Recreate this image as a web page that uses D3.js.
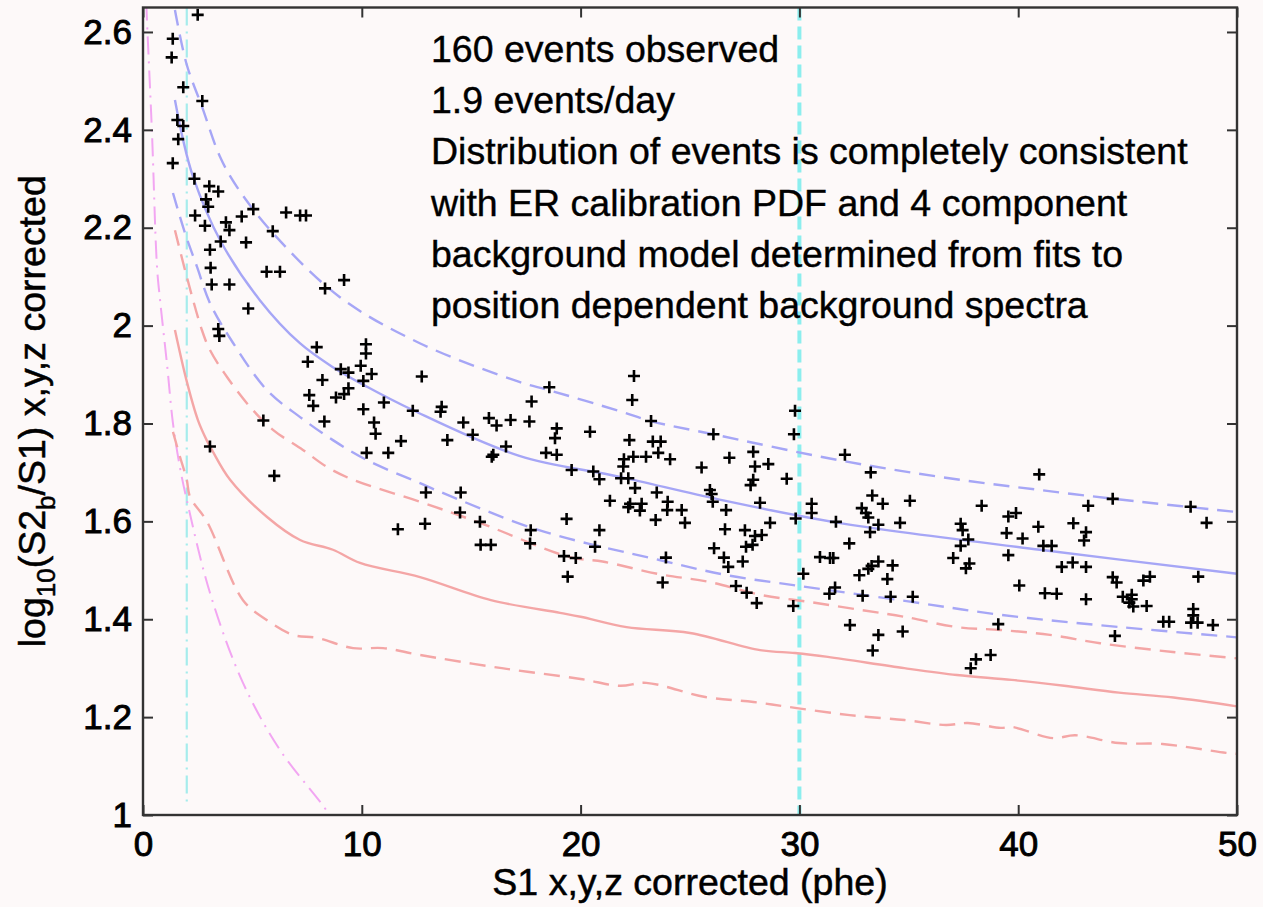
<!DOCTYPE html>
<html>
<head>
<meta charset="utf-8">
<script src="https://cdn.jsdelivr.net/npm/d3@7"></script>
<style>
  html, body { margin: 0; padding: 0; background: #fdf9f9; }
  svg { display: block; }
  text { font-family: "Liberation Sans", Arial, Helvetica, sans-serif; fill: #000; }
</style>
</head>
<body>
<svg id="chart" width="1263" height="907"></svg>
<script>
// ---------------- data ----------------
const xTicks = [0, 10, 20, 30, 40, 50];
const xTickLabels = ["0", "10", "20", "30", "40", "50"];
const yTicks = [1, 1.2, 1.4, 1.6, 1.8, 2, 2.2, 2.4, 2.6];
const yTickLabels = ["1", "1.2", "1.4", "1.6", "1.8", "2", "2.2", "2.4", "2.6"];

const annotationLines = [
  "160 events observed",
  "1.9 events/day",
  "Distribution of events is completely consistent",
  "with ER calibration PDF and 4 component",
  "background model determined from fits to",
  "position dependent background spectra"
];

// ER band mean (blue solid)
const erMeanX = [1.46, 1.83, 2.29, 3.52, 5.34, 7.17, 8.68, 10.24, 12.3, 17.2, 21.8, 26.4, 31.8, 41.0, 50];
const erMeanY = [2.461, 2.38, 2.304, 2.175, 2.052, 1.964, 1.915, 1.875, 1.828, 1.734, 1.691, 1.644, 1.597, 1.542, 1.493];
// ER band upper (blue dashed)
const erUpX = [1.46, 2.0, 2.7, 3.52, 4.3, 5.94, 9.0, 12.65, 17.2, 18.56, 21.8, 23.2, 26.05, 31.8, 36.4, 41.0, 45.6, 50];
const erUpY = [2.645, 2.533, 2.447, 2.345, 2.283, 2.189, 2.058, 1.964, 1.885, 1.868, 1.825, 1.805, 1.778, 1.725, 1.691, 1.664, 1.640, 1.619];
// ER band lower (blue dashed)
const erLoX = [1.37, 1.92, 2.47, 3.06, 4.11, 5.67, 7.18, 8.68, 10.24, 12.66, 13.6, 18.1, 23.6, 26.7, 30.0, 34.9, 39.2, 43.7, 50];
const erLoY = [2.271, 2.189, 2.12, 2.046, 1.965, 1.868, 1.813, 1.766, 1.725, 1.678, 1.66, 1.582, 1.521, 1.49, 1.468, 1.437, 1.409, 1.388, 1.363];
// NR band mean (red solid)
const nrMeanX = [1.46, 2.0, 2.51, 2.92, 3.15, 3.98, 5.67, 7.18, 8.68, 9.92, 12.66, 15.9, 19.06, 20, 22.1, 25, 28.2, 29.8, 31.3, 34.8, 37.2, 39.7, 42.1, 44.6, 47.1, 50];
const nrMeanY = [1.991, 1.886, 1.807, 1.765, 1.746, 1.685, 1.609, 1.562, 1.542, 1.515, 1.486, 1.439, 1.413, 1.405, 1.384, 1.372, 1.337, 1.331, 1.323, 1.30, 1.286, 1.276, 1.264, 1.25, 1.24, 1.222];
// NR band upper (red dashed)
const nrUpX = [1.46, 2.0, 2.7, 3.06, 3.84, 4.89, 5.94, 7.31, 8.41, 9.6, 12.66, 15.4, 19.5, 21.0, 23.6, 25.9, 28.2, 30.5, 32.8, 34.8, 37.2, 39.2, 41.45, 43.74, 47.07, 50];
const nrUpY = [2.195, 2.10, 1.99, 1.95, 1.895, 1.834, 1.787, 1.746, 1.711, 1.685, 1.64, 1.597, 1.527, 1.518, 1.492, 1.476, 1.45, 1.435, 1.419, 1.405, 1.384, 1.378, 1.368, 1.351, 1.333, 1.32];
// NR band lower (red dashed)
const nrLoX = [1.37, 1.69, 2.0, 2.15, 2.92, 4.57, 5.67, 6.86, 7.95, 9.6, 10.97, 12.66, 16.4, 20, 21.8, 23, 25.7, 27.9, 29.8, 32.3, 34.8, 36.7, 37.7, 39.2, 39.7, 41.6, 42.6, 44.6, 46.6, 49.5, 50];
const nrLoY = [1.783, 1.732, 1.685, 1.650, 1.60, 1.439, 1.398, 1.368, 1.362, 1.341, 1.341, 1.327, 1.30, 1.278, 1.264, 1.27, 1.241, 1.231, 1.219, 1.204, 1.194, 1.184, 1.188, 1.178, 1.18, 1.157, 1.163, 1.147, 1.145, 1.127, 1.125];
// S2 threshold (magenta dash-dot)
const thrX = [0.15, 0.18, 0.41, 0.64, 0.78, 1.1, 1.37, 1.69, 2.0, 3.06, 4.57, 6.26, 8.46, 8.7];
const thrY = [2.66, 2.625, 2.394, 2.12, 2.052, 1.92, 1.80, 1.71, 1.644, 1.454, 1.27, 1.133, 1.004, 0.98];
// vertical cut lines (cyan)
const cutLowS1 = 2;
const cutHighS1 = 30;

// events
const eventS1 = [
  2.50,1.36,1.31,1.84,2.71,1.57,1.84,1.61,1.36,2.35,3.03,3.44,2.88,2.98,2.38,2.83,3.79,3.95,4.51,5.04,4.71,3.55,3.06,3.09,3.14,3.95,5.93,6.54,7.18,7.45,5.65,6.26,8.32,9.19,
  4.81,3.44,3.49,7.94,7.53,10.19,10.19,9.95,9.04,9.39,10.45,10.07,12.74,8.20,9.39,9.19,7.60,8.82,7.78,10.07,11.01,12.33,8.29,5.50,10.56,10.63,11.79,10.22,11.21,3.06,6.0,11.65,13.6,13.65,
  13.91,14.64,15.07,15.81,16.16,16.8,17.66,17.76,18.57,16.59,15.94,16.01,18.42,18.91,18.91,18.83,19.59,20.43,20.58,20.86,22.44,22.36,22.23,21.98,21.95,21.85,22.18,22.41,22.99,23.3,23.66,23.55,24.09,23.22,22.49,23.48,22.26,22.18,22.79,22.71,21.34,23.98,23.96,24.62,24.77,23.43,19.36,20.86,20.66,19.24,19.78,19.41,23.90,23.75,17.72,17.69,15.4,15.43,15.9,14.52,14.49,12.93,12.89,
  25.53,25.91,25.99,26.04,26.07,26.8,26.65,26.60,26.1,26.55,26.75,27.41,27.10,27.59,27.89,27.97,28.58,27.89,27.77,28.2,28.66,27.51,27.97,28.28,27.56,27.86,29.42,29.8,29.75,29.83,30.18,30.56,30.56,30.94,31.4,31.55,31.67,31.37,31.63,
  32.08,33.26,33.33,32.85,33.04,33.15,33.81,35.05,33.61,33.23,34.6,32.28,33.61,33.3,33.15,32.74,34.26,34.02,32.89,34.17,35.18,38.33,37.37,37.46,37.72,37.37,37.03,37.77,37.61,39.47,39.55,39.55,39.9,40.2,40.05,40.96,40.92,41.15,41.53,41.22,41.76,41.99,42.49,43.1,42.52,43.1,43.01,43.2,43.1,44.32,44.32,44.5,44.78,45.19,45.72,46.02,47.88,48.61,48.23,
  45.19,45.08,45.26,45.87,34.72,39.09,38.07,37.83,38.74,44.42,46.63,46.9,48.0,48.0,47.9,48.2,48.9,
  28.05,29.72,32.31,33.61,33.35
];
const eventLogRatio = [
  2.635,2.586,2.548,2.487,2.459,2.42,2.408,2.381,2.332,2.30,2.285,2.274,2.258,2.243,2.225,2.204,2.211,2.195,2.223,2.238,2.170,2.172,2.155,2.118,2.084,2.084,2.193,2.231,2.225,2.225,2.110,2.110,2.076,2.093,
  2.035,1.993,1.979,1.956,1.926,1.962,1.943,1.918,1.911,1.904,1.901,1.887,1.896,1.889,1.872,1.860,1.858,1.853,1.836,1.829,1.843,1.826,1.804,1.806,1.802,1.779,1.764,1.740,1.740,1.753,1.693,1.584,1.824,1.834,
  1.766,1.802,1.777,1.811,1.796,1.807,1.804,1.845,1.874,1.753,1.732,1.736,1.740,1.736,1.790,1.770,1.705,1.783,1.702,1.686,1.897,1.848,1.766,1.727,1.712,1.688,1.688,1.732,1.732,1.763,1.763,1.740,1.727,1.805,1.668,1.659,1.636,1.629,1.636,1.622,1.642,1.640,1.623,1.623,1.597,1.603,1.605,1.582,1.548,1.529,1.525,1.487,1.526,1.475,1.582,1.555,1.599,1.552,1.552,1.659,1.618,1.659,1.595,
  1.710,1.664,1.656,1.640,1.778,1.730,1.623,1.584,1.545,1.526,1.507,1.518,1.468,1.454,1.742,1.712,1.717,1.685,1.674,1.638,1.597,1.582,1.570,1.572,1.548,1.552,1.687,1.826,1.778,1.606,1.493,1.636,1.617,1.527,1.525,1.525,1.599,1.452,1.465,
  1.736,1.700,1.653,1.627,1.617,1.608,1.636,1.642,1.593,1.578,1.597,1.555,1.518,1.509,1.503,1.490,1.510,1.482,1.448,1.446,1.446,1.632,1.595,1.582,1.563,1.550,1.525,1.514,1.504,1.576,1.531,1.610,1.617,1.565,1.469,1.696,1.589,1.550,1.550,1.453,1.452,1.507,1.516,1.507,1.596,1.578,1.561,1.632,1.441,1.646,1.486,1.475,1.446,1.450,1.479,1.487,1.630,1.597,1.487,
  1.441,1.434,1.426,1.427,1.375,1.390,1.318,1.300,1.327,1.366,1.395,1.395,1.421,1.408,1.393,1.393,1.388,
  1.433,1.427,1.388,1.368,1.336
];

// ---------------- layout ----------------
const W = 1263, H = 907;
const plot = { left: 143, right: 1237, top: 7.5, bottom: 815 };
const svg = d3.select("#chart");

const x = d3.scaleLinear().domain([0, 50]).range([plot.left, plot.right]);
const y = d3.scaleLinear().domain([1, 2.65]).range([plot.bottom, plot.top]);

svg.append("rect").attr("width", W).attr("height", H).attr("fill", "#fdf9f9");

svg.append("defs").append("clipPath").attr("id", "clip")
  .append("rect").attr("x", plot.left).attr("y", plot.top)
  .attr("width", plot.right - plot.left).attr("height", plot.bottom - plot.top);

const g = svg.append("g").attr("clip-path", "url(#clip)");
const zip = (a, b) => a.map((v, i) => [v, b[i]]);
const curveLine = d3.line().x(d => x(d[0])).y(d => y(d[1])).curve(d3.curveCatmullRom);

// cyan cut lines
g.append("line").attr("x1", x(cutLowS1)).attr("x2", x(cutLowS1))
  .attr("y1", y(2.65)).attr("y2", y(1.025))
  .attr("stroke", "#a6ecec").attr("stroke-width", 2.2)
  .attr("stroke-dasharray", "18,6,2,6");
g.append("line").attr("x1", x(cutHighS1)).attr("x2", x(cutHighS1))
  .attr("y1", y(2.65)).attr("y2", y(1))
  .attr("stroke", "#8ceeee").attr("stroke-width", 4)
  .attr("stroke-dasharray", "13,6");

// threshold curve (magenta)
g.append("path").datum(zip(thrX, thrY)).attr("d", curveLine)
  .attr("fill", "none").attr("stroke", "#f2a6f2").attr("stroke-width", 2)
  .attr("stroke-dasharray", "18,7,2,7");

const bands = [
  { xs: nrLoX, ys: nrLoY, color: "#f4a6a6", dash: "16,9" },
  { xs: nrUpX, ys: nrUpY, color: "#f4a6a6", dash: "16,9" },
  { xs: nrMeanX, ys: nrMeanY, color: "#f4a6a6", dash: null },
  { xs: erLoX, ys: erLoY, color: "#a6a6f6", dash: "16,9" },
  { xs: erUpX, ys: erUpY, color: "#a6a6f6", dash: "16,9" },
  { xs: erMeanX, ys: erMeanY, color: "#a6a6f6", dash: null }
];
bands.forEach(b => {
  g.append("path").datum(zip(b.xs, b.ys)).attr("d", curveLine)
    .attr("fill", "none").attr("stroke", b.color).attr("stroke-width", 2.4)
    .attr("stroke-dasharray", b.dash);
});

// events
const events = zip(eventS1, eventLogRatio);
g.append("g").selectAll("path").data(events).join("path")
  .attr("transform", d => `translate(${x(d[0])},${y(d[1])})`)
  .attr("d", "M-6,0H6M0,-6V6")
  .attr("stroke", "#000").attr("stroke-width", 2.6).attr("fill", "none");

// axes
const fontSize = 35;
const axB = d3.axisBottom(x).tickValues(xTicks).tickFormat((d, i) => xTickLabels[i]).tickSize(-10).tickSizeOuter(0).tickPadding(16);
const axL = d3.axisLeft(y).tickValues(yTicks).tickFormat((d, i) => yTickLabels[i]).tickSize(-10).tickSizeOuter(0).tickPadding(11);
const axT = d3.axisTop(x).tickValues(xTicks).tickFormat("").tickSize(-10).tickSizeOuter(0);
const axR = d3.axisRight(y).tickValues(yTicks).tickFormat("").tickSize(-10).tickSizeOuter(0);

function styleAxis(sel) {
  sel.selectAll(".domain").remove();
  sel.selectAll(".tick line").attr("stroke", "#333").attr("stroke-width", 2);
  sel.selectAll(".tick text").attr("font-size", fontSize)
    .attr("font-family", '"Liberation Sans", Arial, sans-serif')
    .attr("fill", "#000").attr("stroke", "#000").attr("stroke-width", 0.9);
}
svg.append("g").attr("transform", `translate(0,${plot.bottom})`).call(axB).call(styleAxis);
svg.append("g").attr("transform", `translate(${plot.left},0)`).call(axL).call(styleAxis);
svg.append("g").attr("transform", `translate(0,${plot.top})`).call(axT).call(styleAxis);
svg.append("g").attr("transform", `translate(${plot.right},0)`).call(axR).call(styleAxis);

svg.append("rect").attr("x", plot.left).attr("y", plot.top)
  .attr("width", plot.right - plot.left).attr("height", plot.bottom - plot.top)
  .attr("fill", "none").attr("stroke", "#333").attr("stroke-width", 2.4);

// annotation
const ann = svg.append("text").attr("font-size", 37.5).attr("stroke", "#000").attr("stroke-width", 0.4);
annotationLines.forEach((t, i) => {
  ann.append("tspan").attr("x", 431).attr("y", 62 + i * 51.2).text(t);
});

// axis titles
svg.append("text").attr("x", (plot.left + plot.right) / 2).attr("y", 895)
  .attr("text-anchor", "middle").attr("font-size", 37.5)
  .attr("stroke", "#000").attr("stroke-width", 0.5)
  .text("S1 x,y,z corrected (phe)");

const yt = svg.append("text").attr("transform", `translate(45,${(plot.top + plot.bottom) / 2})rotate(-90)`)
  .attr("text-anchor", "middle").attr("font-size", 37.5)
  .attr("stroke", "#000").attr("stroke-width", 0.5);
yt.append("tspan").text("log");
yt.append("tspan").attr("font-size", 26).attr("dy", 10).text("10");
yt.append("tspan").attr("dy", -10).text("(S2");
yt.append("tspan").attr("font-size", 26).attr("dy", 10).text("b");
yt.append("tspan").attr("dy", -10).text("/S1) x,y,z corrected");
</script>
</body>
</html>
